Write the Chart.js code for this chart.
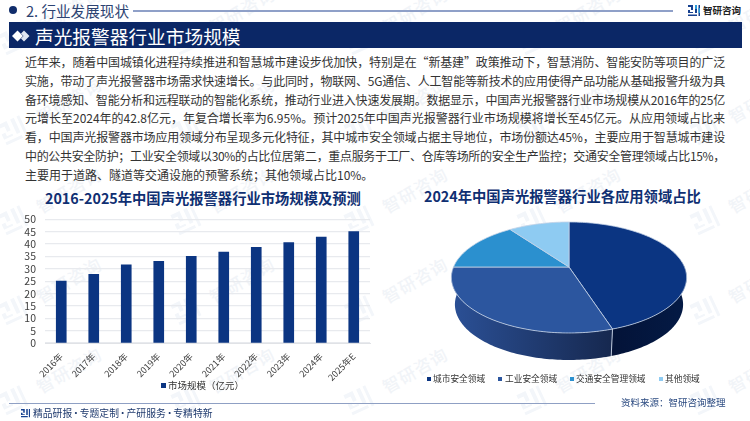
<!DOCTYPE html>
<html lang="zh"><head><meta charset="utf-8">
<script src="https://cdn.jsdelivr.net/npm/chart.js@4"></script>
<style>
html,body{margin:0;padding:0;background:#fff;width:750px;height:421px;overflow:hidden;font-family:"Noto Sans CJK SC","Noto Sans",sans-serif}
.a{position:absolute;white-space:nowrap}
.wm{position:absolute;color:#f1f4f8;font-size:17px;line-height:24px;letter-spacing:1px;transform:rotate(-30deg);white-space:nowrap;font-weight:500}
.wl{position:absolute;transform:rotate(-25deg)}
.body{position:absolute;left:25px;font-size:12px;line-height:18px;color:#333;white-space:nowrap}
canvas{position:absolute}
</style></head><body>
<div id="wms"></div>
<div class="a" style="left:9px;top:6px;width:8px;height:8px;border-radius:50%;background:#102d6b"></div>
<div class="a" style="left:26px;top:0;font-size:14.6px;line-height:21px;color:#2c4372">2. 行业发展现状</div>
<div class="a" style="left:133px;top:10px;width:540px;height:1.5px;background:#8fa0c8"></div>
<svg class="a" style="left:688px;top:4px" width="12" height="13" viewBox="0 0 12 13"><path d="M0 1h5v5H2v2h3v1H0V6h3V3H0zM7 1h2v8H7zM0 10.500h9V12H0zM10.500 1H12v11h-1.500z" fill="#16408f"/><path d="M7 1h2v4H7zM10.500 4H12v5h-1.500z" fill="#2b9bd8"/></svg>
<div class="a" style="left:703px;top:1px;font-size:9.500px;line-height:19px;font-weight:700;color:#222">智研咨询</div>
<div class="a" style="left:9px;top:22px;width:733px;height:26px;background:#0b2766"></div>
<svg class="a" style="left:12px;top:30px" width="18" height="12" viewBox="0 0 18 12"><path d="M5.500 0.500 11 6 5.500 11.500 0 6z" fill="#fff"/><path d="M12 0.500 17.500 6 12 11.500 9 8.500 11.500 6 9 3.500z" fill="#dfe6f2"/></svg>
<div class="a" style="left:35px;top:22px;font-size:18.700px;line-height:27px;color:#fff">声光报警器行业市场规模</div>
<div id="bodyText"></div>
<div class="a" style="left:45px;top:188px;font-size:14.300px;line-height:20px;font-weight:700;color:#0f2f72">2016-2025年中国声光报警器行业市场规模及预测</div>
<div class="a" style="left:424px;top:186px;font-size:14.300px;line-height:20px;font-weight:700;color:#0f2f72">2024年中国声光报警器行业各应用领域占比</div>
<canvas id="bar" style="left:0;top:204px;width:375px;height:179px"></canvas>
<canvas id="pie" style="left:429.300px;top:127.300px;width:280px;height:280px"></canvas>
<div id="barLegend"></div>
<div id="pieLegend"></div>
<div class="a" style="left:9px;top:402.500px;width:586px;height:1.5px;background:#8fa0c4"></div>
<svg class="a" style="left:21px;top:408px" width="9" height="10" viewBox="0 0 12 13"><path d="M0 1h5v5H2v2h3v1H0V6h3V3H0zM7 1h2v8H7zM0 10.500h9V12H0zM10.500 1H12v11h-1.500z" fill="#16408f"/></svg>
<div class="a" style="left:33px;top:405px;font-size:9.800px;line-height:16px;color:#1f3a6e;word-spacing:-3.3px">精品研报 · 专题定制 · 产研服务 · 专精特新</div>
<div class="a" style="left:621px;top:394px;font-size:9.500px;line-height:16px;color:#2b4a80">资料来源：智研咨询整理</div>
<script>
const years=["2016年","2017年","2018年","2019年","2020年","2021年","2022年","2023年","2024年","2025年E"];
const marketSize=[25,27.8,31.6,33,35,36.8,38.7,40.6,42.8,45];
const seriesName="市场规模（亿元）";
const domains=["城市安全领域","工业安全领域","交通安全管理领域","其他领域"];
const shares=[45,30,15,10];
const topColors=["#0b3582","#2c569f","#2b90cf","#8ecbf2"];
const bodyLines=[
"近年来，随着中国城镇化进程持续推进和智慧城市建设步伐加快，特别是在“新基建”政策推动下，智慧消防、智能安防等项目的广泛",
"实施，带动了声光报警器市场需求快速增长。与此同时，物联网、5G通信、人工智能等新技术的应用使得产品功能从基础报警升级为具",
"备环境感知、智能分析和远程联动的智能化系统，推动行业进入快速发展期。数据显示，中国声光报警器行业市场规模从2016年的25亿",
"元增长至2024年的42.8亿元，年复合增长率为6.95%。预计2025年中国声光报警器行业市场规模将增长至45亿元。从应用领域占比来",
"看，中国声光报警器市场应用领域分布呈现多元化特征，其中城市安全领域占据主导地位，市场份额达45%，主要应用于智慧城市建设",
"中的公共安全防护；工业安全领域以30%的占比位居第二，重点服务于工厂、仓库等场所的安全生产监控；交通安全管理领域占比15%，",
"主要用于道路、隧道等交通设施的预警系统；其他领域占比10%。"];

const wms=document.getElementById('wms');
const logoSvg='<svg width="30" height="26" viewBox="0 0 12 13"><path d="M0 1h5v5H2v2h3v1H0V6h3V3H0zM7 1h2v8H7zM0 10.500h9V12H0zM10.500 1H12v11h-1.500z" fill="#f3f6fa"/></svg>';
for(let r=0;r<5;r++)for(let c=0;c<5;c++){
  const cx=69+c*173, cy=10+r*90;
  wms.insertAdjacentHTML('beforeend',`<div class="wm" style="left:${cx-36}px;top:${cy-12}px">智研咨询</div><div class="wl" style="left:${cx-70}px;top:${cy+17}px">${logoSvg}</div>`);
}
const bt=document.getElementById('bodyText');
bodyLines.forEach((t,i)=>{
  const d=document.createElement('div');d.className='body';d.style.top=(53+i*18.75)+'px';d.textContent=t;bt.appendChild(d);
  if(i<6){const w=d.getBoundingClientRect().width;d.style.letterSpacing=((700-w)/t.length)+'px';}
});
document.getElementById('barLegend').innerHTML=`<div class="a" style="left:161px;top:383px;width:5px;height:5px;background:#0b3582"></div><div class="a" style="left:168px;top:378px;font-size:9.500px;line-height:15px;color:#333">${seriesName}</div>`;
const legendX=[[427,433],[498,505],[570,576],[659,665]];
const pl=document.getElementById('pieLegend');
domains.forEach((t,i)=>{pl.insertAdjacentHTML('beforeend',`<div class="a" style="left:${legendX[i][0]}px;top:377px;width:3.5px;height:3.5px;background:${topColors[i]}"></div><div class="a" style="left:${legendX[i][1]}px;top:371px;font-size:8.700px;line-height:16px;color:#333">${t}</div>`);});

Chart.defaults.animation=false;
Chart.defaults.font.family='"Noto Sans CJK SC","Noto Sans",sans-serif';
new Chart(document.getElementById('bar'),{
  type:'bar',
  data:{labels:years,datasets:[{label:seriesName,data:marketSize,backgroundColor:'#0b3582',borderWidth:0,barThickness:10}]},
  options:{responsive:false,devicePixelRatio:1,
    layout:{padding:{top:0,right:5,left:0,bottom:0}},
    plugins:{legend:{display:false},tooltip:{enabled:false}},
    scales:{
      y:{min:0,max:50,ticks:{stepSize:5,autoSkip:false,color:'#404040',padding:9,font:{size:10.500}},grid:{color:'#e8eaee',lineWidth:1.2,drawTicks:false},border:{display:false},afterFit(a){a.width=45;}},
      x:{ticks:{minRotation:45,maxRotation:45,color:'#404040',padding:0,font:{size:9},autoSkip:false},grid:{display:false},border:{color:'#e0e2e6'},afterFit(a){a.height=40;}}
    }
  }
});

// The pie is tilted in perspective, so the library's arc angles are projected before painting.
const k=-0.189, sy=53.5/115.5, depth=27, shrink=0.97;
function proj(arc,th){const u=Math.cos(th),v=Math.sin(th),d=1+k*v,r=arc.outerRadius;return [arc.x+r*u/d,arc.y+r*sy*v/d];}
function floorPt(arc,p){return [arc.x+(p[0]-arc.x)*shrink,p[1]+depth];}
function sweep(a0,a1){const n=Math.max(2,Math.ceil((a1-a0)/0.02)),o=[];for(let i=0;i<=n;i++)o.push(a0+(a1-a0)*i/n);return o;}
const tiltPlugin={id:'tilt',beforeDatasetDraw(chart){
  const ctx=chart.ctx,arcs=chart.getDatasetMeta(0).data;
  ctx.save();
  const lim=-0.1;
  const walls=[["#041a45","#031338"],["#16284f","#2b5096"]];
  arcs.slice(0,2).forEach((arc,i)=>{
    const th=sweep(arc.startAngle,arc.endAngle).filter(t=>Math.sin(t)>=lim);
    const top=th.map(t=>proj(arc,t)),bot=top.map(p=>floorPt(arc,p));
    const xs=top.map(p=>p[0]),g=ctx.createLinearGradient(Math.max(...xs),0,Math.min(...xs),0);
    g.addColorStop(0,walls[i][0]);g.addColorStop(1,walls[i][1]);
    ctx.beginPath();top.forEach((p,j)=>j?ctx.lineTo(p[0],p[1]):ctx.moveTo(p[0],p[1]));
    bot.reverse().forEach(p=>ctx.lineTo(p[0],p[1]));ctx.closePath();ctx.fillStyle=g;ctx.fill();
  });
  const e=proj(arcs[0],arcs[0].endAngle),f=floorPt(arcs[0],e);
  ctx.beginPath();ctx.moveTo(e[0],e[1]);ctx.lineTo(f[0],f[1]);ctx.strokeStyle='#b9c5da';ctx.lineWidth=1;ctx.stroke();
  arcs.forEach((arc,i)=>{
    ctx.beginPath();ctx.moveTo(arc.x,arc.y);
    sweep(arc.startAngle,arc.endAngle).forEach(t=>{const p=proj(arc,t);ctx.lineTo(p[0],p[1]);});
    ctx.closePath();ctx.fillStyle=arc.options.backgroundColor;ctx.fill();
    ctx.strokeStyle='#c4d2e6';ctx.lineWidth=0.8;ctx.stroke();
  });
  ctx.restore();
  return false;
}};
new Chart(document.getElementById('pie'),{
  type:'pie',plugins:[tiltPlugin],
  data:{labels:domains,datasets:[{data:shares,backgroundColor:topColors,borderWidth:0}]},
  options:{responsive:false,devicePixelRatio:1,layout:{padding:24.5},plugins:{legend:{display:false},tooltip:{enabled:false}}}
});
</script>
</body></html>
